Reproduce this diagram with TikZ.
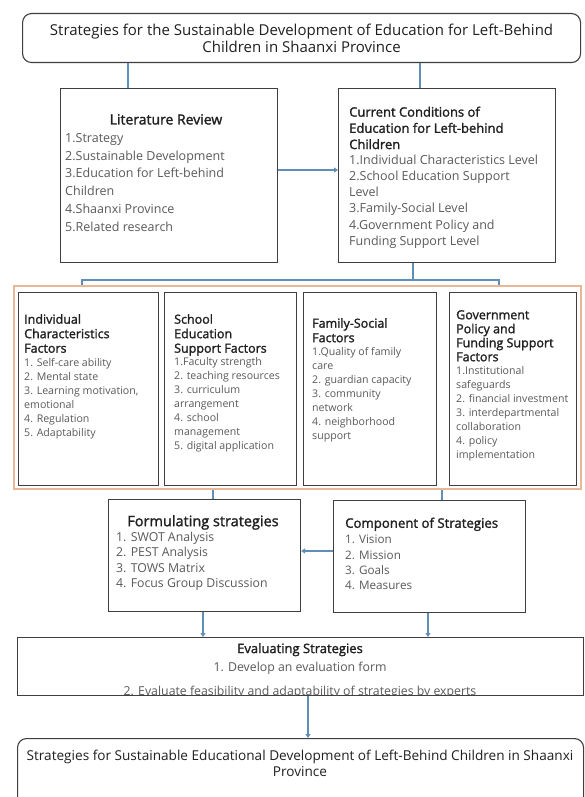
\documentclass[tikz,border=0pt]{standalone}
\usepackage{fontspec}
\setmainfont{Open Sans}
\newfontfamily\hfont[FakeBold=1.6]{Open Sans}
\usetikzlibrary{arrows.meta}
\definecolor{bordc}{HTML}{3F3F3F}
\definecolor{linkc}{HTML}{5F8FB8}
\definecolor{framec}{HTML}{E8B894}
\definecolor{itemc}{HTML}{5A5A5A}
\definecolor{headc}{HTML}{202020}
\newcommand{\fsz}[2]{\fontsize{#1}{#2}\selectfont}
\begin{document}
\begin{tikzpicture}[x=1pt,y=-1pt,
  box/.style={draw=bordc,line width=1.1pt,fill=white,inner sep=0pt,anchor=north west},
  rbox/.style={box,rounded corners=9pt},
  txt/.style={inner sep=0pt,anchor=north west,align=left,text=itemc},
  head/.style={txt,text=headc},
  link/.style={draw=linkc,line width=1.6pt},
  arr/.style={link,-{Triangle[length=4pt,width=5pt]}}
]
\useasboundingbox[fill=white] (0,0) rectangle (585,797);

% ---------- boxes ----------
\node[rbox,minimum width=558,minimum height=49] (title) at (22,13) {};
\node[box,minimum width=217,minimum height=174] (lit) at (60,88) {};
\node[box,minimum width=217,minimum height=174] (cur) at (338,88) {};
\node[draw=framec,line width=2pt,inner sep=0pt,anchor=north west,minimum width=567,minimum height=203] (frame) at (13,285) {};
\node[box,minimum width=140,minimum height=193] (f1) at (18,292) {};
\node[box,minimum width=132,minimum height=193] (f2) at (164,292) {};
\node[box,minimum width=133,minimum height=193] (f3) at (303,292) {};
\node[box,minimum width=127,minimum height=193] (f4) at (449,292) {};
\node[box,minimum width=192,minimum height=112] (form) at (108,499) {};
\node[box,minimum width=192,minimum height=112] (comp) at (333,500) {};
\node[box,minimum width=566,minimum height=58] (eval) at (17,637) {};
\node[rbox,minimum width=566,minimum height=75] (final) at (17,738) {};

% ---------- texts ----------
\node[head,anchor=center,align=center,font=\fsz{15}{17}] (titlet) at (title.center)
  {Strategies for the Sustainable Development of Education for Left-Behind\\Children in Shaanxi Province};

\node[head,anchor=north,font=\hfont\fsz{14}{16}] (lith) at (166,114) {Literature Review};
\node[txt,font=\fsz{12.5}{17.8}] (litt) at (65,133)
  {1.Strategy\\2.Sustainable Development\\3.Education for Left-behind\\Children\\4.Shaanxi Province\\5.Related research};

\node[head,font=\hfont\fsz{13}{16.2}] (curh) at (349,106.5)
  {Current Conditions of\\Education for Left-behind\\Children};
\node[txt,font=\fsz{12.5}{16.1}] (curt) at (349,155)
  {1.Individual Characteristics Level\\2.School Education Support\\Level\\3.Family-Social Level\\4.Government Policy and\\Funding Support Level};

\node[head,font=\hfont\fsz{12.5}{14.5}] (f1h) at (24,314) {Individual\\Characteristics\\Factors};
\node[txt,font=\fsz{10.6}{14}] (f1t) at (24,358.5)
  {1. Self-care ability\\2. Mental state\\3. Learning motivation,\\emotional\\4. Regulation\\5. Adaptability};

\node[head,font=\hfont\fsz{12.5}{14.5}] (f2h) at (174,314) {School\\Education\\Support Factors};
\node[txt,font=\fsz{10.6}{14}] (f2t) at (174,357.5)
  {1.Faculty strength\\2. teaching resources\\3. curriculum\\arrangement\\4. school\\management\\5. digital application};

\node[head,font=\hfont\fsz{12.5}{14.5}] (f3h) at (312,318) {Family-Social\\Factors};
\node[txt,font=\fsz{10.6}{14}] (f3t) at (312,347.5)
  {1.Quality of family\\care\\2. guardian capacity\\3. community\\network\\4. neighborhood\\support};

\node[head,font=\hfont\fsz{12.5}{14}] (f4h) at (456,310) {Government\\Policy and\\Funding Support\\Factors};
\node[txt,font=\fsz{10.6}{14}] (f4t) at (456,366.5)
  {1.Institutional\\safeguards\\2. financial investment\\3. interdepartmental\\collaboration\\4. policy\\implementation};

\node[head,anchor=north,font=\hfont\fsz{14.5}{16}] (formh) at (203,515) {Formulating strategies};
\node[txt,font=\fsz{12.3}{15.3}] (formt) at (116,532)
  {1. SWOT Analysis\\2. PEST Analysis\\3. TOWS Matrix\\4. Focus Group Discussion};

\node[head,font=\hfont\fsz{13.2}{15}] (comph) at (345,517.5) {Component of Strategies};
\node[txt,font=\fsz{11.7}{15.3}] (compt) at (345,535)
  {1. Vision\\2. Mission\\3. Goals\\4. Measures};

\node[head,anchor=north,font=\hfont\fsz{13}{15}] (evalh) at (300,643) {Evaluating Strategies};
\node[txt,anchor=north,font=\fsz{12.3}{15}] (evalt) at (300,662) {1. Develop an evaluation form};
\begin{scope}
  \clip ([shift={(0.6pt,-0.6pt)}]eval.north west) rectangle ([shift={(-0.6pt,0.6pt)}]eval.south east);
  \node[txt,anchor=north,font=\fsz{12.3}{15}] (evalt2) at (300,685.5)
    {2. Evaluate feasibility and adaptability of strategies by experts};
\end{scope}

\node[head,anchor=north,align=center,font=\fsz{13.6}{16}] (finalt) at (300,750)
  {Strategies for Sustainable Educational Development of Left-Behind Children in Shaanxi\\Province};

% ---------- connectors ----------
\draw[link] ([xshift=68pt]lit.north west) -- ([xshift=68pt]lit.north west |- title.south);
\draw[link] ([xshift=82pt]cur.north west) -- ([xshift=82pt]cur.north west |- title.south);
\draw[arr] ([yshift=-82pt]lit.north east) -- ([yshift=-82pt]cur.north west);
\draw[link] ([xshift=75pt]cur.south west) -- ++(0,17) coordinate (bus);
\draw[link] ([xshift=69pt]frame.north west) |- (bus) -| ([xshift=-83pt]frame.north east);
\draw[link] ([xshift=105pt]form.north west) -- ([xshift=105pt]form.north west |- frame.south);
\draw[link] ([xshift=109pt]comp.north west) -- ([xshift=109pt]comp.north west |- frame.south);
\draw[arr] ([yshift=-51pt]comp.north west) -- ([yshift=-51pt]comp.north west -| form.east);
\draw[arr] ([xshift=95pt]form.south west) -- ([xshift=95pt]form.south west |- eval.north);
\draw[arr] ([xshift=95pt]comp.south west) -- ([xshift=95pt]comp.south west |- eval.north);
\draw[arr] ([xshift=291pt]eval.south west) -- ([xshift=291pt]eval.south west |- final.north);
\end{tikzpicture}
\end{document}
